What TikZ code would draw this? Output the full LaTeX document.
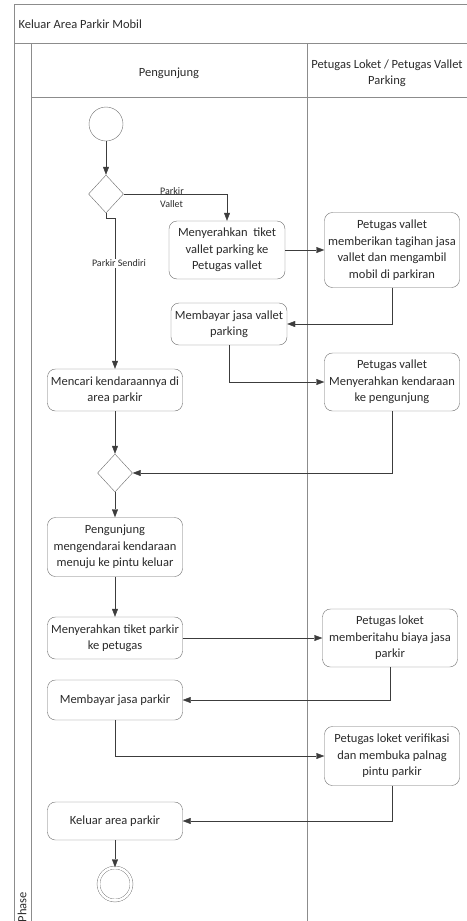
\documentclass[tikz,border=0pt]{standalone}
\usepackage{fontspec}
\setmainfont{Carlito}
\usetikzlibrary{arrows.meta,shapes.geometric,positioning}
\definecolor{framegray}{HTML}{8C8C8C}
\definecolor{boxgray}{HTML}{6E6E6E}
\definecolor{linegray}{HTML}{3C3C3C}
\definecolor{textgray}{HTML}{2B2B2B}

\begin{document}
\begin{tikzpicture}[x=1pt,y=-1pt,>={Triangle[length=8pt,width=6pt]},
        font=\fontsize{12.5}{16.5}\selectfont,text=textgray,
        activity/.style={rectangle,rounded corners=8pt,draw=boxgray,fill=white,align=center,inner sep=2pt},
        decision/.style={diamond,draw=boxgray,fill=white,inner sep=0pt,minimum width=35pt,minimum height=38pt},
        flow/.style={->,draw=linegray,thin},
        guard/.style={font=\fontsize{10}{13}\selectfont,align=left,inner sep=1pt},
        lane/.style={draw=framegray,line width=0.8pt}]

        \useasboundingbox (0,0) rectangle (466,921);

        % swimlane frame
        \draw[lane] (14,930) -- (14,4) -- (480,4);
        \draw[lane] (14,43) -- (480,43);
        \draw[lane] (31,43) -- (31,930);
        \draw[lane] (31,97) -- (480,97);
        \draw[lane] (307,43) -- (307,930);
        \node[anchor=west] (title) at (15,24) {Keluar Area Parkir Mobil};
        \node (lane1) at (169,73) {Pengunjung};
        \node[align=center] (lane2) at (387,73) {Petugas Loket / Petugas Vallet\\Parking};
        \node[rotate=90] (phase) at (22,907) {Phase};

        % nodes
        \node[circle,draw=boxgray,minimum size=34pt] (start) at (106,124) {};
        \node[decision] (dec1) at (106,194) {};
        \node[activity,minimum width=116pt,minimum height=58pt] (vtiket) at (227,250)
            {Menyerahkan\ \ tiket\\vallet parking ke\\Petugas vallet};
        \node[activity,minimum width=135pt,minimum height=75pt] (vtagih) at (392,250)
            {Petugas vallet\\memberikan tagihan jasa\\vallet dan mengambil\\mobil di parkiran};
        \node[activity,minimum width=116pt,minimum height=42pt] (vbayar) at (229,324)
            {Membayar jasa vallet\\parking};
        \node[activity,minimum width=135pt,minimum height=58pt] (vserah) at (392,382)
            {Petugas vallet\\Menyerahkan kendaraan\\ke pengunjung};
        \node[activity,minimum width=135pt,minimum height=42pt] (cari) at (115,390)
            {Mencari kendaraannya di\\area parkir};
        \node[decision] (dec2) at (115,473) {};
        \node[activity,minimum width=135pt,minimum height=59pt] (kendarai) at (115,547)
            {Pengunjung\\mengendarai kendaraan\\menuju ke pintu keluar};
        \node[activity,minimum width=135pt,minimum height=42pt] (tiket) at (115,638)
            {Menyerahkan tiket parkir\\ke petugas};
        \node[activity,minimum width=135pt,minimum height=58pt] (loket) at (390,638)
            {Petugas loket\\memberitahu biaya jasa\\parkir};
        \node[activity,minimum width=135pt,minimum height=40pt] (bayar) at (115,700)
            {Membayar jasa parkir};
        \node[activity,minimum width=135pt,minimum height=59pt] (verif) at (392,756)
            {Petugas loket verifikasi\\dan membuka palnag\\pintu parkir};
        \node[activity,minimum width=135pt,minimum height=38pt] (keluar) at (115,821)
            {Keluar area parkir};
        \node[circle,draw=boxgray,double,double distance=2.5pt,minimum size=33pt] (end) at (115,884) {};

        % connectors
        \draw[flow] (start) -- (dec1);
        \draw[flow] (dec1.east) -| (vtiket.north);
        \node[guard,anchor=west] (gvallet) at (159,198) {Parkir\\Vallet};
        \draw[flow] (dec1.south) -- ++(0,5) -| (cari.north)
            node[guard,fill=white,pos=0.65,xshift=4pt] (gsendiri) {Parkir Sendiri};
        \draw[flow] (vtiket) -- (vtagih);
        \draw[flow] (vtagih.south) |- (vbayar.east);
        \draw[flow] (vbayar.south) |- (vserah.west);
        \draw[flow] (cari) -- (dec2);
        \draw[flow] (vserah.south) |- (dec2.east);
        \draw[flow] (dec2) -- (kendarai);
        \draw[flow] (kendarai) -- (tiket);
        \draw[flow] (tiket) -- (loket);
        \draw[flow] (loket.south) |- (bayar.east);
        \draw[flow] (bayar.south) |- (verif.west);
        \draw[flow] (verif.south) |- (keluar.east);
        \draw[flow] (keluar) -- (end);
      \end{tikzpicture}
\end{document}
